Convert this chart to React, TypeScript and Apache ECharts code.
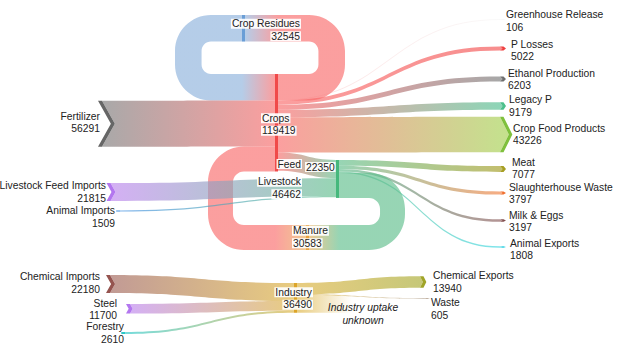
import React, { useEffect, useRef } from "react";
import * as echarts from "echarts";

// ---------------- DATA ----------------
const nodeNames = [
  "Fertilizer", "Livestock Feed Imports", "Animal Imports", "Chemical Imports", "Steel", "Forestry",
  "Crop Residues", "Crops", "Livestock", "Manure", "Industry",
  "Greenhouse Release", "P Losses", "Ethanol Production", "Legacy P", "Crop Food Products",
  "Meat", "Slaughterhouse Waste", "Milk & Eggs", "Animal Exports",
  "Chemical Exports", "Waste", "Industry uptake unknown",
];
const nodeValues = [
  56291, 21815, 1509, 22180, 11700, 2610,
  32545, 119419, 46462, 30583, 36490,
  106, 5022, 6203, 9179, 43226,
  7077, 3797, 3197, 1808,
  13940, 605, 21945,
];

const linkSources = [
  "Crop Residues", "Fertilizer", "Manure",
  "Crops", "Crops", "Crops", "Crops", "Crops", "Crops", "Crops",
  "Livestock Feed Imports", "Animal Imports",
  "Livestock", "Livestock", "Livestock", "Livestock", "Livestock",
  "Chemical Imports", "Steel", "Forestry",
  "Industry", "Industry", "Industry",
];
const linkTargets = [
  "Crops", "Crops", "Crops",
  "Crop Residues", "Greenhouse Release", "P Losses", "Ethanol Production", "Legacy P", "Crop Food Products", "Livestock",
  "Livestock", "Livestock",
  "Meat", "Slaughterhouse Waste", "Milk & Eggs", "Animal Exports", "Manure",
  "Industry", "Industry", "Industry",
  "Chemical Exports", "Waste", "Industry uptake unknown",
];
const linkValues = [
  32545, 56291, 30583,
  32545, 106, 5022, 6203, 9179, 43226, 22350,
  21815, 1509,
  7077, 3797, 3197, 1808, 30583,
  22180, 11700, 2610,
  13940, 605, 21945,
];
const linkNames = [
  "", "", "",
  "", "", "", "", "", "", "Feed",
  "", "",
  "", "", "", "", "",
  "", "", "",
  "", "", "",
];

// ---------------- LAYOUT & STYLE ----------------
const PX_PER_UNIT = 1 / 1225;
const BAR_W = 3;
const SRC_STRIPE = 4;
const TGT_STRIPE = 3.5;
const LINK_ALPHA = 0.65;
const THIN_ALPHA = 0.22;
const LOOP_RADIUS = 36;
const MIN_H = 0.8;
const KAPPA = 0.5523;
const FONT = "'Liberation Sans', Arial, Helvetica, sans-serif";
const FONT_SIZE = 10.3;
const LINE_H = 12.5;
const TEXT_COLOR = "#222";

type Kind = "source" | "bar" | "target" | "fade";
interface LabelLayout { x: number; y: number; align: "left" | "right" | "center"; box?: boolean; italic?: boolean; hideValue?: boolean }
interface NodeLayout { kind: Kind; x: number; y: number; dir?: 1 | -1; color: string; mark: string; label: LabelLayout }

const NODE_LAYOUT: Record<string, NodeLayout> = {
  "Fertilizer": { kind: "source", x: 98, y: 123.8, color: "#7a7a7a", mark: "#666666", label: { x: 100, y: 122.5, align: "right" } },
  "Livestock Feed Imports": { kind: "source", x: 106.5, y: 192, color: "#bd85ee", mark: "#b377ef", label: { x: 106, y: 192, align: "right" } },
  "Animal Imports": { kind: "source", x: 116, y: 211, color: "#3d8de0", mark: "#3d8de0", label: { x: 115, y: 217, align: "right" } },
  "Chemical Imports": { kind: "source", x: 106, y: 284, color: "#a0645c", mark: "#95544f", label: { x: 100, y: 283, align: "right" } },
  "Steel": { kind: "source", x: 126, y: 308.8, color: "#bd85ee", mark: "#b377ef", label: { x: 117, y: 309.5, align: "right" } },
  "Forestry": { kind: "source", x: 121, y: 333, color: "#2cc8c8", mark: "#2cc8c8", label: { x: 124, y: 333, align: "right" } },
  "Crop Residues": { kind: "bar", x: 242, y: 15, dir: -1, color: "#8db2dc", mark: "#6a9ed6", label: { x: 301, y: 30, align: "right", box: true } },
  "Crops": { kind: "bar", x: 275, y: 74, dir: 1, color: "#f96b6b", mark: "#f04a4a", label: { x: 261, y: 124.5, align: "left", box: true } },
  "Livestock": { kind: "bar", x: 336, y: 160, dir: 1, color: "#5fbe8c", mark: "#45b87c", label: { x: 302, y: 188, align: "right", box: true } },
  "Manure": { kind: "bar", x: 306, y: 225, dir: -1, color: "#e8aa54", mark: "#e8a03c", label: { x: 292, y: 237, align: "left", box: true } },
  "Industry": { kind: "bar", x: 294, y: 283, dir: 1, color: "#dcb13c", mark: "#dca428", label: { x: 313, y: 298.5, align: "right", box: true } },
  "Greenhouse Release": { kind: "target", x: 500, y: 19.5, color: "#e6e6e6", mark: "#e0e0e0", label: { x: 506, y: 21, align: "left" } },
  "P Losses": { kind: "target", x: 500, y: 48.5, color: "#f35050", mark: "#ef3f3f", label: { x: 511, y: 50.5, align: "left" } },
  "Ethanol Production": { kind: "target", x: 500, y: 79, color: "#787878", mark: "#6e6e6e", label: { x: 508, y: 79.5, align: "left" } },
  "Legacy P": { kind: "target", x: 500, y: 106, color: "#50be90", mark: "#4cbf8c", label: { x: 509, y: 106, align: "left" } },
  "Crop Food Products": { kind: "target", x: 500, y: 134.5, color: "#a6cf51", mark: "#7fc03c", label: { x: 513, y: 134.5, align: "left" } },
  "Meat": { kind: "target", x: 500, y: 169, color: "#a29c22", mark: "#a69e22", label: { x: 512, y: 168.5, align: "left" } },
  "Slaughterhouse Waste": { kind: "target", x: 500, y: 193, color: "#f08040", mark: "#f07030", label: { x: 509, y: 193.5, align: "left" } },
  "Milk & Eggs": { kind: "target", x: 500, y: 220.5, color: "#8a5a5a", mark: "#845050", label: { x: 509, y: 221.5, align: "left" } },
  "Animal Exports": { kind: "target", x: 500, y: 247, color: "#3ad6e0", mark: "#2ccfe0", label: { x: 510, y: 249.5, align: "left" } },
  "Chemical Exports": { kind: "target", x: 420, y: 282, color: "#a8aa30", mark: "#a0a428", label: { x: 433, y: 282, align: "left" } },
  "Waste": { kind: "target", x: 424, y: 298.5, color: "#b8a898", mark: "#c0b0a0", label: { x: 431, y: 309, align: "left" } },
  "Industry uptake unknown": { kind: "fade", x: 352, y: 0, color: "#dcb13c", mark: "#dcb13c", label: { x: 363, y: 314, align: "center", italic: true, hideValue: true } },
};

const LOOP_EXTENT: Record<string, number> = {
  "Crops>Crop Residues": 345,
  "Crop Residues>Crops": 175,
  "Livestock>Manure": 405,
  "Manure>Crops": 208,
};

const LINK_LABEL_LAYOUT: Record<string, { nameX: number; nameY: number; valueX: number; valueY: number }> = {
  "Crops>Livestock": { nameX: 302, nameY: 164, valueX: 305, valueY: 167 },
};

// ---------------- GEOMETRY ----------------
type Pt = [number, number];
type Cmd = { c: "M" | "L" | "C" | "Z"; p: Pt[] };

const idx = (n: string) => nodeNames.indexOf(n);
const nodeH = (n: string) => nodeValues[idx(n)] * PX_PER_UNIT;
const nodeTop = (n: string) => {
  const L = NODE_LAYOUT[n];
  return L.kind === "bar" ? L.y : L.y - nodeH(n) / 2;
};
const srcDepth = (h: number) => 0.28 * h;
const tgtDepth = (h: number) => Math.max(2.5, 0.25 * h);

function rgba(hex: string, a: number) {
  const h = hex.replace("#", "");
  const r = parseInt(h.slice(0, 2), 16), g = parseInt(h.slice(2, 4), 16), b = parseInt(h.slice(4, 6), 16);
  return `rgba(${r},${g},${b},${a})`;
}

interface LinkGeom { kind: "band" | "loopR" | "loopL" | "fade"; xs: number; ys: number; xe: number; ye: number; h: number; dS: number; dT: number; xOuter?: number }

const outOff: Record<string, number> = {};
const inOff: Record<string, number> = {};
const linkGeoms: LinkGeom[] = linkValues.map((v, i) => {
  const s = linkSources[i], t = linkTargets[i];
  const S = NODE_LAYOUT[s], T = NODE_LAYOUT[t];
  const h = v * PX_PER_UNIT;
  const so = outOff[s] ?? 0; outOff[s] = so + h;
  const to = inOff[t] ?? 0; inOff[t] = to + h;
  const ys = nodeTop(s) + so;
  const xs = S.kind === "source" ? S.x + SRC_STRIPE : (S.dir === -1 ? S.x : S.x + BAR_W);
  if (T.kind === "fade") return { kind: "fade", xs, ys, xe: T.x, ye: ys, h, dS: 0, dT: 0 };
  const ye = nodeTop(t) + to;
  const xe = T.kind === "target" ? T.x : (T.dir === -1 ? T.x + BAR_W : T.x);
  const dS = S.kind === "source" ? srcDepth(nodeH(s)) : 0;
  const dT = T.kind === "target" ? tgtDepth(nodeH(t)) : 0;
  let kind: LinkGeom["kind"] = "band";
  if (S.kind === "bar" && T.kind === "bar") {
    if (S.dir === 1 && T.dir === -1) kind = "loopR";
    else if (S.dir === -1 && T.dir === 1) kind = "loopL";
  }
  return { kind, xs, ys, xe, ye, h, dS, dT, xOuter: LOOP_EXTENT[`${s}>${t}`] };
});

function bandCmds(g: LinkGeom): Cmd[] {
  let { xs, ys, xe, ye, h } = g;
  if (h < MIN_H) { ys -= (MIN_H - h) / 2; ye -= (MIN_H - h) / 2; h = MIN_H; }
  const xm = (xs + xe) / 2;
  const cmds: Cmd[] = [
    { c: "M", p: [[xs, ys]] },
    { c: "C", p: [[xm, ys], [xm, ye], [xe, ye]] },
  ];
  if (g.dT > 0) cmds.push({ c: "L", p: [[xe + g.dT, ye + h / 2]] });
  cmds.push({ c: "L", p: [[xe, ye + h]] });
  cmds.push({ c: "C", p: [[xm, ye + h], [xm, ys + h], [xs, ys + h]] });
  if (g.dS > 0) cmds.push({ c: "L", p: [[xs + g.dS, ys + h / 2]] });
  cmds.push({ c: "Z", p: [] });
  return cmds;
}

function loopCmds(g: LinkGeom, side: 1 | -1): Cmd[] {
  const { xs, ys, xe, ye, h } = g;
  const xO = g.xOuter as number;
  const up = ye < ys;
  const topY = Math.min(ys, ye), botY = Math.max(ys, ye);
  const xTopEnd = up ? xe : xs;
  const xBotEnd = up ? xs : xe;
  const oT = topY, oB = botY + h, iT = topY + h, iB = botY;
  const Ro = Math.min(LOOP_RADIUS, (oB - oT) / 2);
  const Ri = Math.max(0, Math.min(Ro - h, (iB - iT) / 2));
  const xi = xO - side * h;
  const s = side;
  return [
    { c: "M", p: [[xTopEnd, oT]] },
    { c: "L", p: [[xO - s * Ro, oT]] },
    { c: "C", p: [[xO - s * Ro + s * Ro * KAPPA, oT], [xO, oT + Ro - Ro * KAPPA], [xO, oT + Ro]] },
    { c: "L", p: [[xO, oB - Ro]] },
    { c: "C", p: [[xO, oB - Ro + Ro * KAPPA], [xO - s * Ro + s * Ro * KAPPA, oB], [xO - s * Ro, oB]] },
    { c: "L", p: [[xBotEnd, oB]] },
    { c: "L", p: [[xBotEnd, iB]] },
    { c: "L", p: [[xi - s * Ri, iB]] },
    { c: "C", p: [[xi - s * Ri + s * Ri * KAPPA, iB], [xi, iB - Ri + Ri * KAPPA], [xi, iB - Ri]] },
    { c: "L", p: [[xi, iT + Ri]] },
    { c: "C", p: [[xi, iT + Ri - Ri * KAPPA], [xi - s * Ri + s * Ri * KAPPA, iT], [xi - s * Ri, iT]] },
    { c: "L", p: [[xTopEnd, iT]] },
    { c: "Z", p: [] },
  ];
}

function fadeCmds(g: LinkGeom): Cmd[] {
  return [
    { c: "M", p: [[g.xs, g.ys]] },
    { c: "L", p: [[g.xe, g.ys]] },
    { c: "L", p: [[g.xe, g.ys + g.h]] },
    { c: "L", p: [[g.xs, g.ys + g.h]] },
    { c: "Z", p: [] },
  ];
}

function toPathData(cmds: Cmd[], map: (p: Pt) => number[]) {
  return cmds
    .map((cmd) => cmd.c + cmd.p.map((p) => { const q = map(p); return q[0].toFixed(2) + " " + q[1].toFixed(2); }).join(" "))
    .join(" ");
}

function wrapWords(text: string, maxChars: number) {
  const words = text.split(" ");
  const lines: string[] = [];
  let cur = "";
  words.forEach((w) => {
    if (cur && (cur + " " + w).length > maxChars) { lines.push(cur); cur = w; }
    else cur = cur ? cur + " " + w : w;
  });
  if (cur) lines.push(cur);
  return lines;
}

function textEl(lines: string[], x: number, y: number, align: string, box: boolean, italic: boolean) {
  const base: any = { fontSize: FONT_SIZE, fontFamily: FONT, fill: TEXT_COLOR, lineHeight: LINE_H, fontStyle: italic ? "italic" : "normal" };
  const style: any = { ...base, align, verticalAlign: "middle" };
  if (box) {
    style.text = lines.map((l) => `{b|${l}}`).join("\n");
    style.rich = { b: { ...base, backgroundColor: "rgba(255,255,255,0.92)", padding: [0, 1, 0, 1] } };
  } else {
    style.text = lines.join("\n");
  }
  return { type: "text", x, y, style, z2: 10 };
}

// ---------------- RENDERERS ----------------
function renderLink(params: any, api: any) {
  const i = params.dataIndex;
  const g = linkGeoms[i];
  const map = (p: Pt) => api.coord(p);
  const S = NODE_LAYOUT[linkSources[i]], T = NODE_LAYOUT[linkTargets[i]];
  let cmds: Cmd[];
  if (g.kind === "loopR") cmds = loopCmds(g, 1);
  else if (g.kind === "loopL") cmds = loopCmds(g, -1);
  else if (g.kind === "fade") cmds = fadeCmds(g);
  else cmds = bandCmds(g);
  const x0 = map([g.xs, 0])[0];
  let x1 = map([g.xe, 0])[0];
  if (Math.abs(x1 - x0) < 1) x1 = x0 + 1;
  const alpha = g.h < 0.3 ? THIN_ALPHA : LINK_ALPHA;
  const stops = g.kind === "fade"
    ? [{ offset: 0, color: rgba(S.color, alpha) }, { offset: 1, color: rgba(T.color, 0) }]
    : [{ offset: 0, color: rgba(S.color, alpha) }, { offset: 1, color: rgba(T.color, alpha) }];
  return {
    type: "path",
    shape: { pathData: toPathData(cmds, map) },
    style: { fill: new echarts.graphic.LinearGradient(x0, 0, x1, 0, stops, true), stroke: null },
  };
}

function renderNode(params: any, api: any) {
  const name = nodeNames[params.dataIndex];
  const L = NODE_LAYOUT[name];
  const h = nodeH(name);
  const map = (p: Pt) => api.coord(p);
  if (L.kind === "bar") {
    const a = map([L.x, L.y]);
    const b = map([L.x + BAR_W, L.y + h]);
    return { type: "rect", shape: { x: a[0], y: a[1], width: b[0] - a[0], height: b[1] - a[1] }, style: { fill: L.mark } };
  }
  if (L.kind === "source" || L.kind === "target") {
    const hh = Math.max(h, MIN_H);
    const t = L.y - hh / 2, m = L.y, bt = L.y + hh / 2;
    const s = L.kind === "source" ? SRC_STRIPE : TGT_STRIPE;
    const d = L.kind === "source" ? srcDepth(h) : tgtDepth(h);
    const pts: Pt[] = [[L.x, t], [L.x + s, t], [L.x + s + d, m], [L.x + s, bt], [L.x, bt], [L.x + d, m]];
    return { type: "polygon", shape: { points: pts.map(map) }, style: { fill: h < 0.3 ? rgba(L.mark, THIN_ALPHA) : L.mark } };
  }
  return { type: "group", children: [] };
}

function renderNodeLabel(params: any, api: any) {
  const i = params.dataIndex;
  const name = nodeNames[i];
  const L = NODE_LAYOUT[name];
  const p = api.coord([L.label.x, L.label.y]);
  const lines = L.label.hideValue ? wrapWords(name, 16) : [name, String(nodeValues[i])];
  return textEl(lines, p[0], p[1], L.label.align, !!L.label.box, !!L.label.italic);
}

const labeledLinks = linkNames.map((n, i) => i).filter((i) => linkNames[i] !== "");

function renderLinkLabel(params: any, api: any) {
  const i = labeledLinks[params.dataIndex];
  const key = `${linkSources[i]}>${linkTargets[i]}`;
  const LL = LINK_LABEL_LAYOUT[key];
  const pn = api.coord([LL.nameX, LL.nameY]);
  const pv = api.coord([LL.valueX, LL.valueY]);
  return {
    type: "group",
    children: [
      textEl([linkNames[i]], pn[0], pn[1], "right", true, false),
      textEl([String(linkValues[i])], pv[0], pv[1], "left", true, false),
    ],
  };
}

function buildOption(): any {
  return {
    animation: false,
    backgroundColor: "#ffffff",
    grid: { left: 0, right: 0, top: 0, bottom: 0 },
    xAxis: { type: "value", min: 0, max: 630, show: false },
    yAxis: { type: "value", min: 0, max: 356, inverse: true, show: false },
    series: [
      { type: "custom", name: "links", coordinateSystem: "cartesian2d", data: linkValues.map((v, i) => [i, v]), renderItem: renderLink, silent: true, z: 1 },
      { type: "custom", name: "nodes", coordinateSystem: "cartesian2d", data: nodeValues.map((v, i) => [i, v]), renderItem: renderNode, silent: true, z: 2 },
      { type: "custom", name: "nodeLabels", coordinateSystem: "cartesian2d", data: nodeValues.map((v, i) => [i, v]), renderItem: renderNodeLabel, silent: true, z: 3 },
      { type: "custom", name: "linkLabels", coordinateSystem: "cartesian2d", data: labeledLinks.map((i) => [i, linkValues[i]]), renderItem: renderLinkLabel, silent: true, z: 4 },
    ],
  };
}

export default function App() {
  const ref = useRef<HTMLDivElement>(null);
  useEffect(() => {
    if (!ref.current) return;
    const chart = echarts.init(ref.current, null, { renderer: "svg" });
    chart.setOption(buildOption());
    return () => chart.dispose();
  }, []);
  return (
    <div
      ref={ref}
      style={{ position: "absolute", left: 0, top: 0, width: 630, height: 356, background: "#ffffff" }}
    />
  );
}
